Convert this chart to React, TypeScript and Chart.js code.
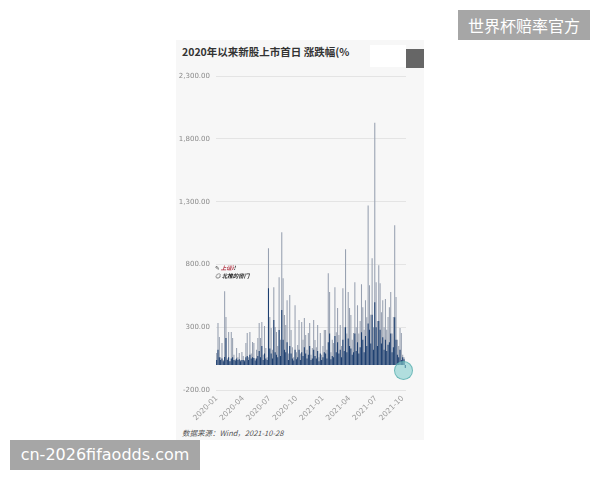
import React, { useEffect, useRef } from "react";
import { Chart, registerables } from "chart.js";

Chart.register(...registerables);

// Listings per month (each bar = one IPO, in listing order)
const monthCounts: [string, number][] = [
  ["2020-01", 8], ["2020-02", 4], ["2020-03", 8],
  ["2020-04", 6], ["2020-05", 6], ["2020-06", 8],
  ["2020-07", 8], ["2020-08", 7], ["2020-09", 5],
  ["2020-10", 6], ["2020-11", 7], ["2020-12", 7],
  ["2021-01", 8], ["2021-02", 5], ["2021-03", 7],
  ["2021-04", 7], ["2021-05", 6], ["2021-06", 7],
  ["2021-07", 7], ["2021-08", 7], ["2021-09", 6],
  ["2021-10", 3],
];

const categories: string[] = monthCounts.flatMap(([m, n]) => Array(n).fill(m));

// Highest first-day gain (%) – light grey bars
const grayValues = [
  95, 333, 222, 60, 175, 40, 587, 381, 50, 262, 30, 262, 214, 80, 45, 135, 60, 95, 40, 103,
  70, 40, 175, 254, 60, 262, 90, 183, 175, 50, 120, 214, 333, 214, 341, 80, 310, 135, 60, 929,
  381, 294, 120, 619, 302, 262, 150, 699, 200, 1056, 690, 397, 318, 516, 90, 556, 278, 140, 60, 476,
  100, 159, 357, 90, 341, 200, 373, 238, 120, 254, 333, 80, 135, 357, 198, 140, 318, 60, 254, 80,
  150, 278, 278, 120, 730, 580, 100, 200, 175, 619, 260, 453, 238, 318, 150, 611, 300, 921, 250, 580,
  453, 397, 200, 254, 659, 300, 476, 250, 350, 643, 460, 280, 516, 380, 1270, 635, 400, 850, 300, 1930,
  659, 350, 794, 651, 420, 516, 300, 524, 280, 381, 460, 580, 250, 381, 1112, 540, 200, 150, 294, 254,
  80, 60, -20,
];

// Closing first-day gain (%) – dark navy bars
const navyValues = [
  40, 120, 60, 40, 50, 30, 63, 214, 40, 60, 30, 50, 60, 40, 35, 50, 40, 45, 30, 40,
  40, 30, 60, 70, 40, 80, 50, 60, 55, 35, 50, 70, 110, 60, 150, 40, 90, 50, 40, 611,
  130, 90, 50, 357, 100, 80, 60, 278, 70, 437, 200, 120, 100, 180, 40, 150, 90, 50, 35, 120,
  45, 60, 120, 40, 100, 70, 140, 90, 50, 80, 150, 40, 50, 120, 70, 50, 110, 30, 90, 40,
  60, 100, 90, 50, 180, 250, 45, 70, 60, 230, 100, 180, 90, 120, 60, 200, 110, 300, 100, 210,
  150, 130, 80, 100, 250, 110, 180, 90, 140, 260, 200, 100, 230, 150, 330, 280, 170, 400, 120, 500,
  300, 150, 350, 280, 170, 220, 120, 200, 110, 160, 180, 250, 100, 140, 380, 200, 80, 60, 120, 40,
  60, 45, -25,
];

const yMin = -200;
const yMax = 2300;
const yStep = 500;
const quarterMonths = ["01", "04", "07", "10"];

const titleText = "2020年以来新股上市首日 涨跌幅(%";
const sourceText = "数据来源：Wind，2021-10-28";

export default function App() {
  const canvasRef = useRef<HTMLCanvasElement | null>(null);

  useEffect(() => {
    if (!canvasRef.current) return;
    const chart = new Chart(canvasRef.current, {
      type: "bar",
      data: {
        labels: categories,
        datasets: [
          {
            label: "收盘涨幅",
            data: navyValues,
            backgroundColor: "#1d3f70",
            borderWidth: 0,
            barPercentage: 0.8,
            categoryPercentage: 1,
          },
          {
            label: "最高涨幅",
            data: grayValues,
            backgroundColor: "#98a1b1",
            borderWidth: 0,
            barPercentage: 0.8,
            categoryPercentage: 1,
          },
        ],
      },
      options: {
        animation: false,
        responsive: true,
        maintainAspectRatio: false,
        layout: { padding: { top: 9, right: 18, left: 0, bottom: 0 } },
        plugins: { legend: { display: false }, tooltip: { enabled: false } },
        scales: {
          x: {
            type: "category",
            stacked: true,
            offset: true,
            grid: { display: false, drawTicks: false },
            border: { display: false },
            ticks: {
              autoSkip: false,
              maxRotation: 45,
              minRotation: 45,
              padding: 4,
              color: "#9a9a9a",
              font: { size: 7.5, family: "DejaVu Sans" },
              callback: (_v: any, index: number) => {
                const lab = categories[index];
                const first = index === 0 || categories[index - 1] !== lab;
                return first && quarterMonths.includes(lab.slice(5)) ? lab : "";
              },
            },
            afterFit: (scale: any) => {
              scale.height = 32;
            },
          },
          y: {
            stacked: false,
            min: yMin,
            max: yMax,
            grid: { color: "#e4e4e4", lineWidth: 1, drawTicks: false },
            border: { display: false },
            ticks: {
              stepSize: yStep,
              padding: 6,
              color: "#8a8a8a",
              font: { size: 7, family: "DejaVu Sans" },
              callback: (v: any) =>
                Number(v).toLocaleString("en-US", {
                  minimumFractionDigits: 2,
                  maximumFractionDigits: 2,
                }),
            },
            afterFit: (scale: any) => {
              scale.width = 40;
            },
          },
        },
      },
    });
    return () => chart.destroy();
  }, []);

  const box = (extra: React.CSSProperties): React.CSSProperties => ({
    position: "absolute",
    ...extra,
  });

  return (
    <div
      style={{
        position: "absolute",
        left: 0,
        top: 0,
        width: 600,
        height: 480,
        background: "#ffffff",
        overflow: "hidden",
        fontFamily: "'Noto Sans CJK SC', 'DejaVu Sans', sans-serif",
      }}
    >
      {/* chart panel */}
      <div style={box({ left: 176, top: 40, width: 248, height: 400, background: "#f7f7f7" })} />
      <div style={box({ left: 370, top: 45, width: 36, height: 22, background: "#ffffff" })} />
      <div style={box({ left: 406, top: 49, width: 18, height: 19, background: "#666666" })} />
      <div
        style={box({
          left: 182,
          top: 44,
          fontSize: 10.5,
          fontWeight: 700,
          color: "#333333",
          whiteSpace: "nowrap",
          lineHeight: "16px",
        })}
      >
        {titleText}
      </div>
      <div style={box({ left: 176, top: 66, width: 248, height: 356 })}>
        <canvas ref={canvasRef} />
      </div>
      <div
        style={box({
          left: 182,
          top: 427,
          fontSize: 7.5,
          fontStyle: "italic",
          color: "#555555",
          whiteSpace: "nowrap",
          lineHeight: "12px",
        })}
      >
        {sourceText}
      </div>
      {/* small embedded logo watermark */}
      <div
        style={box({
          left: 215,
          top: 264,
          fontSize: 5.5,
          fontStyle: "italic",
          fontWeight: 700,
          color: "#222222",
          lineHeight: "8px",
          whiteSpace: "nowrap",
        })}
      >
        <div>
          ✎ <span style={{ color: "#b03040" }}>上证i</span>!
        </div>
        <div>◎ 北推的窗门</div>
      </div>
      {/* teal marker */}
      <div
        style={box({
          left: 394,
          top: 361,
          width: 17,
          height: 17,
          borderRadius: "50%",
          background: "rgba(130,205,205,0.6)",
          border: "1px solid rgba(90,175,175,0.8)",
        })}
      />
      {/* watermarks */}
      <div
        style={box({
          left: 458,
          top: 10,
          width: 132,
          height: 30,
          background: "#a6a6a6",
          color: "#ffffff",
          fontSize: 16,
          lineHeight: "30px",
          textAlign: "center",
          whiteSpace: "nowrap",
        })}
      >
        世界杯赔率官方
      </div>
      <div
        style={box({
          left: 10,
          top: 440,
          width: 190,
          height: 30,
          background: "#a6a6a6",
          color: "#ffffff",
          fontSize: 16,
          lineHeight: "30px",
          textAlign: "center",
          whiteSpace: "nowrap",
          fontFamily: "'DejaVu Sans', sans-serif",
        })}
      >
        cn-2026fifaodds.com
      </div>
    </div>
  );
}
